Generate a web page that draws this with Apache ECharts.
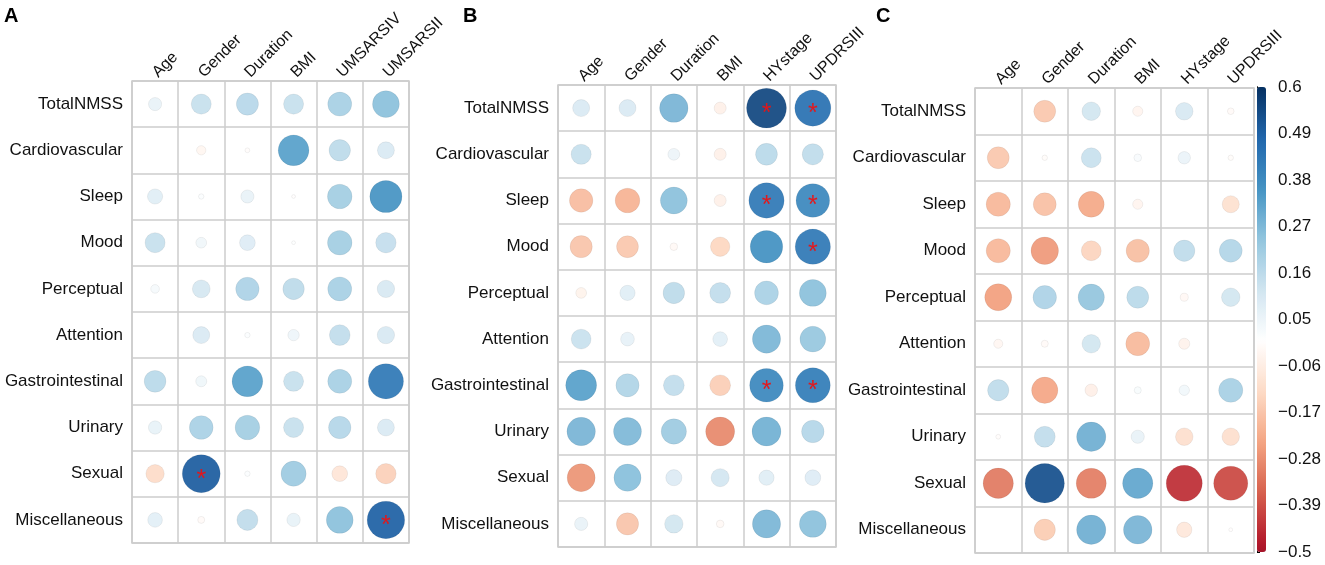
<!DOCTYPE html>
<html>
<head>
<meta charset="utf-8">
<script src="https://cdn.jsdelivr.net/npm/echarts@6/dist/echarts.min.js"></script>
<style>
html,body{margin:0;padding:0;background:#fff;}
#chart{width:1325px;height:565px;}
</style>
</head>
<body>
<div id="chart"></div>
<script>
// ---------- data ----------
const rowLabels = ['TotalNMSS','Cardiovascular','Sleep','Mood','Perceptual','Attention','Gastrointestinal','Urinary','Sexual','Miscellaneous'];
const colsA = ['Age','Gender','Duration','BMI','UMSARSIV','UMSARSII'];
const colsBC = ['Age','Gender','Duration','BMI','HYstage','UPDRSIII'];

const valuesA = [
  [0.06, 0.14, 0.17, 0.14, 0.20, 0.25],
  [0, -0.03, -0.008, 0.33, 0.16, 0.10],
  [0.08, 0.01, 0.06, -0.005, 0.21, 0.36],
  [0.14, 0.04, 0.086, 0.005, 0.21, 0.145],
  [0.026, 0.11, 0.19, 0.16, 0.20, 0.105],
  [0, 0.10, 0.01, 0.045, 0.15, 0.105],
  [0.165, 0.042, 0.33, 0.14, 0.20, 0.43],
  [0.062, 0.196, 0.21, 0.14, 0.175, 0.10],
  [-0.117, 0.50, 0.01, 0.22, -0.086, -0.145],
  [0.075, -0.017, 0.154, 0.062, 0.25, 0.49]
];
const valuesB = [
  [0.10, 0.10, 0.28, -0.05, 0.55, 0.45],
  [0.14, 0, 0.048, -0.05, 0.165, 0.155],
  [-0.19, -0.21, 0.25, -0.05, 0.43, 0.39],
  [-0.17, -0.165, -0.02, -0.13, 0.365, 0.43],
  [-0.04, 0.08, 0.16, 0.15, 0.196, 0.25],
  [0.136, 0.065, 0, 0.075, 0.275, 0.23],
  [0.33, 0.185, 0.15, -0.15, 0.39, 0.42],
  [0.28, 0.27, 0.22, -0.29, 0.29, 0.175],
  [-0.27, 0.255, 0.09, 0.113, 0.08, 0.086],
  [0.06, -0.17, 0.117, -0.02, 0.275, 0.25]
];
const valuesC = [
  [0, -0.165, 0.117, -0.035, 0.105, -0.015],
  [-0.165, -0.01, 0.136, 0.02, 0.053, -0.01],
  [-0.20, -0.18, -0.23, -0.035, 0, -0.10],
  [-0.20, -0.26, -0.136, -0.185, 0.155, 0.18],
  [-0.25, 0.19, 0.237, 0.165, -0.022, 0.117],
  [-0.028, -0.017, 0.117, -0.196, -0.042, 0],
  [0.155, -0.237, -0.053, 0.017, 0.037, 0.20],
  [-0.008, 0.15, 0.294, 0.06, -0.105, -0.105],
  [-0.315, 0.53, -0.31, 0.315, -0.445, -0.40],
  [0, -0.155, 0.294, 0.28, -0.08, -0.005]
];
// significant cells: [row, col]
const sigA = [[8,1],[9,5]];
const sigB = [[0,4],[0,5],[2,4],[2,5],[3,5],[6,4],[6,5]];
const sigC = [];

const colorbarTicks = ['\u22120.5','\u22120.39','\u22120.28','\u22120.17','\u22120.06','0.05','0.16','0.27','0.38','0.49','0.6'];
const panelLetters = ['A','B','C'];

// ---------- styling ----------
const FONT = '"Liberation Sans", Arial, Helvetica, sans-serif';
const palette = ['#67001F','#B2182B','#D6604D','#F4A582','#FDDBC7','#FFFFFF','#D1E5F0','#92C5DE','#4393C3','#2166AC','#053061']; // spans -0.6..0.6
const VMIN = -0.5, VMAX = 0.6, PMAX = 0.6;

function hex2rgb(h){return [parseInt(h.substr(1,2),16),parseInt(h.substr(3,2),16),parseInt(h.substr(5,2),16)];}
function paletteAt(v){
  const t = (v + PMAX) / (2*PMAX) * (palette.length - 1);
  const i = Math.max(0, Math.min(palette.length - 2, Math.floor(t)));
  const f = t - i;
  const a = hex2rgb(palette[i]), b = hex2rgb(palette[i+1]);
  const c = a.map((x,k)=>Math.round(x + (b[k]-x)*f));
  return 'rgb(' + c.join(',') + ')';
}
const rampColors = [];
for (let i = 0; i <= 44; i++) rampColors.push(paletteAt(VMIN + (VMAX - VMIN) * i / 44));

const panels = [
  {cols: colsA, vals: valuesA, sig: sigA, left: 132, top: 81, width: 277, height: 462, letterLeft: 4, letterTop: 6},
  {cols: colsBC, vals: valuesB, sig: sigB, left: 558, top: 85, width: 278, height: 462, letterLeft: 463, letterTop: 6},
  {cols: colsBC, vals: valuesC, sig: sigC, left: 975, top: 88, width: 279, height: 465, letterLeft: 876, letterTop: 6}
];

const grids = [], xAxes = [], yAxes = [], series = [], titles = [];
panels.forEach((p, k) => {
  grids.push({left: p.left, top: p.top, width: p.width, height: p.height, show: true, borderColor: '#cccccc', borderWidth: 1.5, backgroundColor: '#fff'});
  xAxes.push({
    type: 'category', gridIndex: k, data: p.cols, position: 'top', boundaryGap: true,
    axisLine: {show: false}, axisTick: {show: false},
    splitLine: {show: true, lineStyle: {color: '#cccccc', width: 1.5}},
    axisLabel: {rotate: -45, margin: 6, fontSize: 16, color: '#111', fontFamily: FONT, interval: 0}
  });
  yAxes.push({
    type: 'category', gridIndex: k, data: rowLabels, inverse: true, boundaryGap: true,
    axisLine: {show: false}, axisTick: {show: false},
    splitLine: {show: true, lineStyle: {color: '#cccccc', width: 1.5}},
    axisLabel: {margin: 9, fontSize: 17, color: '#111', fontFamily: FONT, interval: 0}
  });
  const cell = p.width / p.cols.length;
  const sigSet = new Set(p.sig.map(s => s[0] + '_' + s[1]));
  const data = [];
  p.vals.forEach((row, r) => row.forEach((v, c) => {
    const item = {value: [c, r, v]};
    if (sigSet.has(r + '_' + c)) item.label = {show: true};
    data.push(item);
  }));
  series.push({
    type: 'scatter', xAxisIndex: k, yAxisIndex: k, data: data,
    symbol: 'circle',
    symbolSize: d => 0.9 * cell * Math.sqrt(Math.abs(d[2]) / PMAX),
    itemStyle: {opacity: 0.93, borderColor: 'rgba(0,0,0,0.08)', borderWidth: 0.8},
    label: {show: false, formatter: '*', position: 'inside', color: '#EE1111', fontSize: 25, fontFamily: FONT, offset: [0, 6]},
    emphasis: {disabled: true},
    silent: true
  });
  titles.push({text: panelLetters[k], left: p.letterLeft, top: p.letterTop, padding: 0,
    textStyle: {fontSize: 20, fontWeight: 'bold', color: '#000', fontFamily: FONT}});
});

// colorbar axis grid
grids.push({left: 1257, top: 87, width: 9, height: 465, show: false});
xAxes.push({type: 'value', gridIndex: 3, show: false});
yAxes.push({
  type: 'value', gridIndex: 3, min: 0, max: colorbarTicks.length - 1, interval: 1, position: 'right',
  axisLine: {show: true, lineStyle: {color: '#000', width: 1}},
  axisTick: {show: true, length: 3, lineStyle: {color: '#000'}},
  splitLine: {show: false},
  axisLabel: {margin: 12, fontSize: 17, color: '#111', fontFamily: FONT, formatter: v => colorbarTicks[v]}
});
yAxes.push({
  type: 'value', gridIndex: 3, min: 0, max: colorbarTicks.length - 1, position: 'left',
  axisLine: {show: true, onZero: false, lineStyle: {color: '#000', width: 1}},
  axisTick: {show: false}, axisLabel: {show: false}, splitLine: {show: false}
});

const option = {
  backgroundColor: '#fff',
  animation: false,
  title: titles,
  grid: grids,
  xAxis: xAxes,
  yAxis: yAxes,
  visualMap: {
    type: 'continuous', min: VMIN, max: VMAX, dimension: 2, seriesIndex: [0,1,2],
    show: true, left: 1257, top: 87, itemWidth: 9, itemHeight: 465, padding: 0,
    calculable: false, text: null, showLabel: false, hoverLink: false,
    inRange: {color: rampColors}
  },
  series: series
};

const chart = echarts.init(document.getElementById('chart'), null, {renderer: 'canvas'});
chart.setOption(option);
</script>
</body>
</html>
